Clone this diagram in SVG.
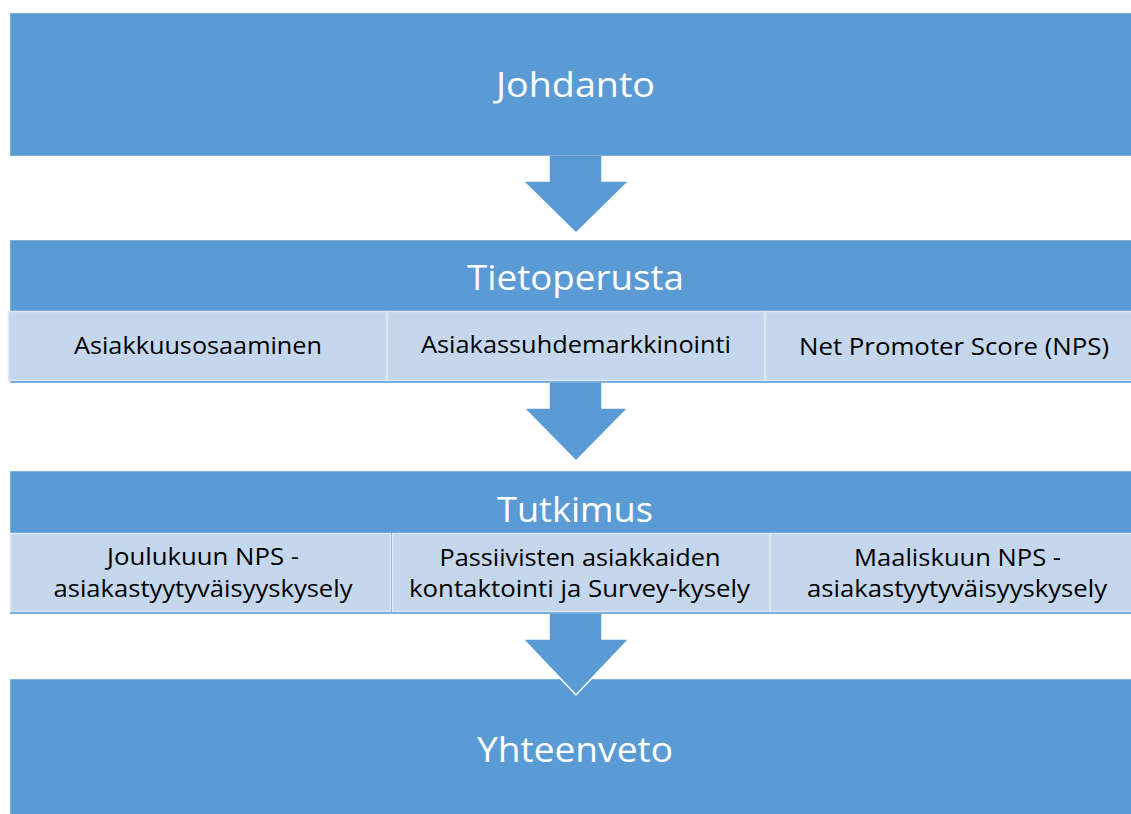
<svg xmlns="http://www.w3.org/2000/svg" width="1131" height="814" viewBox="0 0 1131 814">
  <style>
    .main { fill: #5B9BD5; stroke: #7EB0DE; stroke-width: 1; }
    .sub { fill: #C5D7EC; stroke: #DCE7F4; stroke-width: 1.5; }
    .arrow { fill: #5B9BD5; stroke: #FFFFFF; stroke-width: 1.5; stroke-linejoin: miter; }
    .title { font-family: "Open Sans", "Noto Sans", sans-serif; font-size: 34px; fill: #FFFFFF; text-anchor: middle; }
    .label { font-family: "Open Sans", "Noto Sans", sans-serif; font-size: 24px; fill: #000000; text-anchor: middle; }
  </style>
  <rect x="0" y="0" width="1131" height="814" fill="#FFFFFF"/>

  <g id="yhteenveto">
    <rect class="main" x="10.5" y="679.5" width="1125" height="140"/>
    <text class="title" x="575" y="762" textLength="196" lengthAdjust="spacingAndGlyphs">Yhteenveto</text>
  </g>

  <g id="connectors">
    <path class="arrow" d="M549,150 L602,150 L602,181 L629,181 L576,233 L523,181 L549,181 Z"/>
    <path class="arrow" d="M549,378 L602,378 L602,408 L628,408 L576,461 L524,408 L549,408 Z"/>
    <path class="arrow" d="M549,608 L602,608 L602,639 L629,639 L576,695 L523,639 L549,639 Z"/>
  </g>

  <g id="johdanto">
    <rect class="main" x="10.5" y="13.5" width="1125" height="142"/>
    <text class="title" x="575.5" y="97" textLength="159" lengthAdjust="spacingAndGlyphs">Johdanto</text>
  </g>

  <g id="tietoperusta">
    <rect class="main" x="10.5" y="240.5" width="1125" height="142"/>
    <text class="title" x="575.5" y="290" textLength="217" lengthAdjust="spacingAndGlyphs">Tietoperusta</text>
    <g id="asiakkuusosaaminen">
      <rect class="sub" x="8.5" y="311.5" width="378" height="69"/>
      <text class="label" x="198" y="354" textLength="248" lengthAdjust="spacingAndGlyphs">Asiakkuusosaaminen</text>
    </g>
    <g id="asiakassuhdemarkkinointi">
      <rect class="sub" x="387.5" y="311.5" width="377" height="69"/>
      <text class="label" x="576" y="353" textLength="310" lengthAdjust="spacingAndGlyphs">Asiakassuhdemarkkinointi</text>
    </g>
    <g id="nps">
      <rect class="sub" x="765.5" y="311.5" width="370" height="69"/>
      <text class="label" x="954" y="355" textLength="310" lengthAdjust="spacingAndGlyphs">Net Promoter Score (NPS)</text>
    </g>
  </g>

  <g id="tutkimus">
    <rect class="main" x="10.5" y="471.5" width="1125" height="142"/>
    <text class="title" x="575" y="522" textLength="156" lengthAdjust="spacingAndGlyphs">Tutkimus</text>
    <g id="joulukuun">
      <rect class="sub" x="10.5" y="533.5" width="380" height="78"/>
      <text class="label" x="203" y="565" textLength="192" lengthAdjust="spacingAndGlyphs">Joulukuun NPS -</text>
      <text class="label" x="203" y="597" textLength="299" lengthAdjust="spacingAndGlyphs">asiakastyytyväisyyskysely</text>
    </g>
    <g id="passiivisten">
      <rect class="sub" x="392.5" y="533.5" width="377" height="78"/>
      <text class="label" x="580" y="566" textLength="281" lengthAdjust="spacingAndGlyphs">Passiivisten asiakkaiden</text>
      <text class="label" x="579.5" y="597" textLength="341" lengthAdjust="spacingAndGlyphs">kontaktointi ja Survey-kysely</text>
    </g>
    <g id="maaliskuun">
      <rect class="sub" x="770.5" y="533.5" width="365" height="78"/>
      <text class="label" x="957.5" y="566" textLength="207" lengthAdjust="spacingAndGlyphs">Maaliskuun NPS -</text>
      <text class="label" x="957" y="597" textLength="300" lengthAdjust="spacingAndGlyphs">asiakastyytyväisyyskysely</text>
    </g>
  </g>
</svg>
